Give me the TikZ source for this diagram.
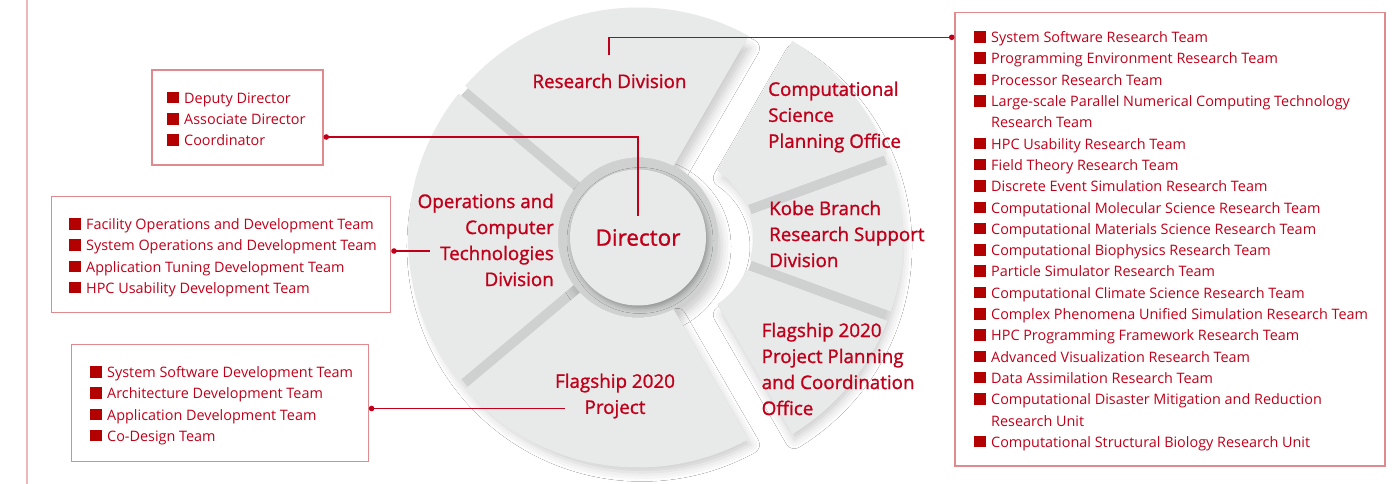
\documentclass[tikz,border=0pt]{standalone}
\usepackage{fontspec}
\setmainfont{Open Sans}
\newfontfamily\labelfont{Open Sans}[FakeBold=1.2]
\usetikzlibrary{positioning,arrows.meta,shadows.blur}

\definecolor{orgred}{HTML}{C0001A}
\definecolor{bulletred}{HTML}{B30000}
\definecolor{framered}{HTML}{E08A8F}
\definecolor{sidepink}{HTML}{EDB8BA}
\definecolor{slicegray}{HTML}{E8E9E9}
\definecolor{groovegray}{HTML}{CFD0D0}

% square bullet and hanging indent for the team lists
\newcommand{\sqb}{\textcolor{bulletred}{\rule{11.5pt}{11.5pt}}\hspace{5.5pt}}
\newcommand{\hang}{\hspace*{17pt}}

% half width of the cuts between the pieces
\newcommand{\ringgap}{5}

% one piece of the ring: angles #2 to #3, radii #4 to #5, cut back by \ringgap
\newcommand{\ringslice}[5][]{%
  \pgfmathsetmacro{\ai}{#2+asin(\ringgap/#4)}%
  \pgfmathsetmacro{\ao}{#2+asin(\ringgap/#5)}%
  \pgfmathsetmacro{\bi}{#3-asin(\ringgap/#4)}%
  \pgfmathsetmacro{\bo}{#3-asin(\ringgap/#5)}%
  \path[#1] (\ai:#4) -- (\ao:#5)
    arc[start angle=\ao, end angle=\bo, radius=#5]
    -- (\bi:#4) arc[start angle=\bi, end angle=\ai, radius=#4] -- cycle;}

\begin{document}
\begin{tikzpicture}[
    x=1pt, y=1pt,
    slice/.style={fill=slicegray},
    groove/.style={
        fill=groovegray,
        blur shadow={shadow xshift=4pt, shadow yshift=-9pt, shadow blur radius=9pt, shadow opacity=20}
    },
    hub/.style={
        circle,
        fill=slicegray,
        minimum size=136pt,
        inner sep=0pt,
        text=orgred,
        font=\labelfont\fontsize{22.5}{27}\selectfont,
        blur shadow={shadow xshift=2pt, shadow yshift=-3pt, shadow blur radius=5pt, shadow opacity=30}
    },
    division/.style={text=orgred, inner sep=0pt, font=\labelfont\fontsize{18.8}{26}\selectfont},
    listframe/.style={rectangle, draw=framered, line width=1.1pt},
    itemlist/.style={text=orgred, inner sep=0pt, align=left, font=\fontsize{14.4}{21.3}\selectfont},
    link/.style={draw=orgred, line width=1.1pt, {Circle[length=5.5pt]}-}
]
\useasboundingbox (0,0) rectangle (1393,-484);
\fill[white] (0,0) rectangle (1393,-484);

% side rule
\draw[sidepink, line width=2.2pt] (27,0) -- (27,-484);

% main part of the ring with the hub
\begin{scope}[shift={(638,-237.5)}]
    \ringslice[groove]{60}{300}{79}{226}
    \fill[groove] (0,0) circle[radius=80];
    \ringslice[slice]{60}{140}{80}{230}
    \ringslice[slice]{140}{220}{80}{230}
    \ringslice[slice]{220}{300}{80}{230}
\end{scope}

% offices pulled out to the right
\begin{scope}[shift={(673,-237.5)}]
    \ringslice[groove]{-60}{60}{82}{226}
    \ringslice[slice]{20}{60}{80}{230}
    \ringslice[slice]{-20}{20}{80}{230}
    \ringslice[slice]{-60}{-20}{80}{230}
\end{scope}

\node [hub] (director) at (638,-237.5) {Director};

% labels on the ring
\node [division, align=center] (resdiv) at (609.5,-81) {Research Division};
\node [division, align=right, anchor=east] (opsdiv) at (554,-240) {Operations and\\Computer\\Technologies\\Division};
\node [division, align=center] (flagproj) at (615,-396) {Flagship 2020\\Project};
\node [division, align=left, anchor=west] (csplan) at (768,-117) {Computational\\Science\\Planning Office};
\node [division, align=left, anchor=west] (kobe) at (769,-234) {Kobe Branch\\Research Support\\Division};
\node [division, align=left, anchor=west] (flagplan) at (761.5,-369) {Flagship 2020\\Project Planning\\and Coordination\\Office};

% team lists
\node [listframe, minimum width=171pt, minimum height=95pt] (boxA) at (237.5,-117.5) {};
\node [itemlist, anchor=west] (listA) at (167,-119) {\sqb Deputy Director\\\sqb Associate Director\\\sqb Coordinator};

\node [listframe, minimum width=339pt, minimum height=116pt] (boxB) at (221.2,-254.7) {};
\node [itemlist, anchor=west] (listB) at (69,-257.5) {\sqb Facility Operations and Development Team\\\sqb System Operations and Development Team\\\sqb Application Tuning Development Team\\\sqb HPC Usability Development Team};

\node [listframe, minimum width=297pt, minimum height=116.3pt] (boxC) at (219.8,-402.9) {};
\node [itemlist, anchor=west] (listC) at (90,-405.5) {\sqb System Software Development Team\\\sqb Architecture Development Team\\\sqb Application Development Team\\\sqb Co-Design Team};

\node [listframe, minimum width=430pt, minimum height=453.3pt] (boxR) at (1170,-239.3) {};
\node [itemlist, anchor=west] (listR) at (974,-241) {\sqb System Software Research Team\\
\sqb Programming Environment Research Team\\
\sqb Processor Research Team\\
\sqb Large-scale Parallel Numerical Computing Technology\\
\hang Research Team\\
\sqb HPC Usability Research Team\\
\sqb Field Theory Research Team\\
\sqb Discrete Event Simulation Research Team\\
\sqb Computational Molecular Science Research Team\\
\sqb Computational Materials Science Research Team\\
\sqb Computational Biophysics Research Team\\
\sqb Particle Simulator Research Team\\
\sqb Computational Climate Science Research Team\\
\sqb Complex Phenomena Unified Simulation Research Team\\
\sqb HPC Programming Framework Research Team\\
\sqb Advanced Visualization Research Team\\
\sqb Data Assimilation Research Team\\
\sqb Computational Disaster Mitigation and Reduction\\
\hang Research Unit\\
\sqb Computational Structural Biology Research Unit};

% connections
\coordinate (dirknee) at (638,-137);
\coordinate (dirin) at (638,-216);
\coordinate (resknee) at (609,-37.3);
\coordinate (resin) at (609,-55);
\coordinate (opsin) at (430,-251);
\coordinate (flagin) at (565,-408.5);

\draw [link] (boxA.east |- dirknee) -| (dirin);
\draw [link] (boxR.west |- resknee) -| (resin);
\draw [link] (boxB.east |- opsin) -- (opsin);
\draw [link] (boxC.east |- flagin) -- (flagin);

\end{tikzpicture}
\end{document}
